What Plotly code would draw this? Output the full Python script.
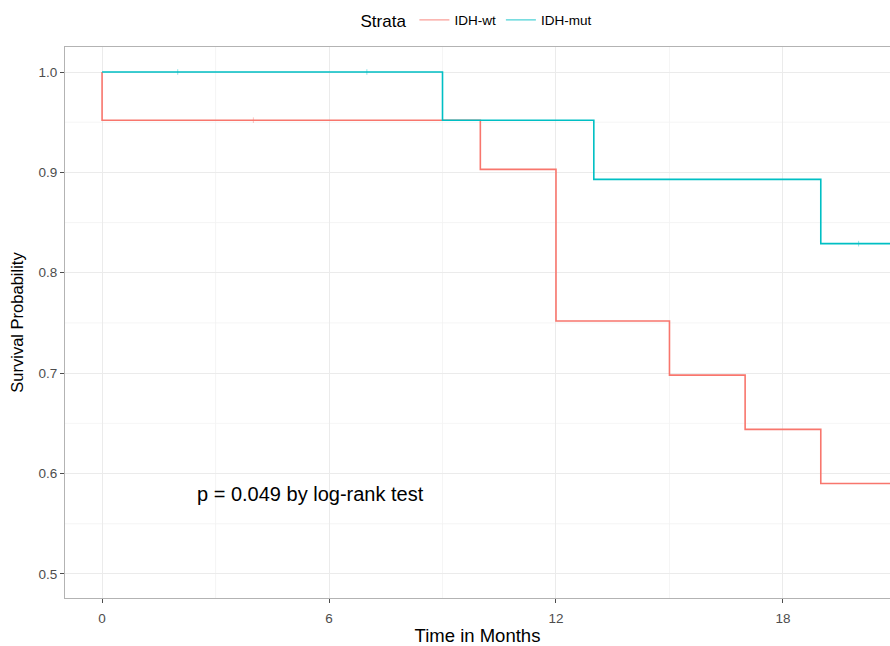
import plotly.graph_objects as go

# Kaplan-Meier step data (time in months, survival probability)
wt_time = [0, 0, 10, 12, 15, 17, 19, 24]
wt_surv = [1.0, 0.952, 0.903, 0.752, 0.698, 0.644, 0.590, 0.590]
mut_time = [0, 9, 13, 19, 24]
mut_surv = [1.0, 0.952, 0.893, 0.829, 0.829]

# censoring marks
wt_cens_time = [4]
wt_cens_surv = [0.952]
mut_cens_time = [2, 7, 20]
mut_cens_surv = [1.0, 1.0, 0.829]

x_ticks = [0, 6, 12, 18]
y_ticks = [0.5, 0.6, 0.7, 0.8, 0.9, 1.0]

WT_COL = "#F8766D"
MUT_COL = "#00BFC4"
FONT = "Liberation Sans, Arial, sans-serif"

fig = go.Figure()
fig.add_trace(go.Scatter(x=wt_time, y=wt_surv, mode="lines", line_shape="hv",
                         line=dict(color=WT_COL, width=1.6), name="IDH-wt", showlegend=False))
fig.add_trace(go.Scatter(x=mut_time, y=mut_surv, mode="lines", line_shape="hv",
                         line=dict(color=MUT_COL, width=1.6), name="IDH-mut", showlegend=False))
fig.add_trace(go.Scatter(x=wt_cens_time, y=wt_cens_surv, mode="markers", showlegend=False,
                         marker=dict(symbol="line-ns", size=4, opacity=0.6,
                                     line=dict(color=WT_COL, width=0.7))))
fig.add_trace(go.Scatter(x=mut_cens_time, y=mut_cens_surv, mode="markers", showlegend=False,
                         marker=dict(symbol="line-ns", size=4, opacity=0.6,
                                     line=dict(color=MUT_COL, width=0.7))))
# legend entries (lighter keys as in the reference)
fig.add_trace(go.Scatter(x=[None], y=[None], mode="lines", name="IDH-wt",
                         line=dict(color=WT_COL, width=1.2), opacity=0.7))
fig.add_trace(go.Scatter(x=[None], y=[None], mode="lines", name="IDH-mut",
                         line=dict(color=MUT_COL, width=1.2), opacity=0.7))

# minor grid lines
for xv in [3, 9, 15, 21]:
    fig.add_shape(type="line", x0=xv, x1=xv, y0=0, y1=1, yref="paper", xref="x",
                  line=dict(color="#f2f2f2", width=0.8), layer="below")
for yv in [0.55, 0.65, 0.75, 0.85, 0.95]:
    fig.add_shape(type="line", y0=yv, y1=yv, x0=0, x1=1, xref="paper", yref="y",
                  line=dict(color="#f2f2f2", width=0.8), layer="below")

fig.add_annotation(x=5.5, y=0.58, text="p = 0.049 by log-rank test", showarrow=False,
                   font=dict(size=20, color="black", family=FONT))

fig.update_layout(
    width=890, height=646,
    margin=dict(l=65, r=0, t=47, b=48, autoexpand=False),
    paper_bgcolor="white", plot_bgcolor="white",
    font=dict(family=FONT, color="black"),
    legend=dict(orientation="h", x=0.5, xanchor="center", y=1.047, yanchor="middle",
                title=dict(text="Strata", font=dict(size=17), side="left"),
                font=dict(size=13.5), itemwidth=30, bgcolor="rgba(0,0,0,0)"),
    xaxis=dict(range=[-0.98, 20.83], tickvals=x_ticks, ticktext=[str(v) for v in x_ticks],
               title=dict(text="Time in Months", font=dict(size=18.5), standoff=3),
               showgrid=True, gridcolor="#ebebeb", gridwidth=1, zeroline=False,
               showline=True, linecolor="#b3b3b3", linewidth=1, mirror=True,
               ticks="outside", ticklen=4, tickcolor="#4d4d4d", ticklabelstandoff=4,
               tickfont=dict(size=13.5, color="#4d4d4d"), automargin=False),
    yaxis=dict(range=[0.476, 1.0249], tickvals=y_ticks, ticktext=[f"{v:.1f}" for v in y_ticks],
               title=dict(text="Survival Probability", font=dict(size=16.5), standoff=10),
               showgrid=True, gridcolor="#ebebeb", gridwidth=1, zeroline=False,
               showline=True, linecolor="#b3b3b3", linewidth=1, mirror=True,
               ticks="outside", ticklen=4, tickcolor="#4d4d4d",
               tickfont=dict(size=13.5, color="#4d4d4d"), automargin=False),
)

fig.write_html("out.html", config={"displayModeBar": False},
               post_script="document.body.style.margin='0';document.body.style.overflow='hidden';")
